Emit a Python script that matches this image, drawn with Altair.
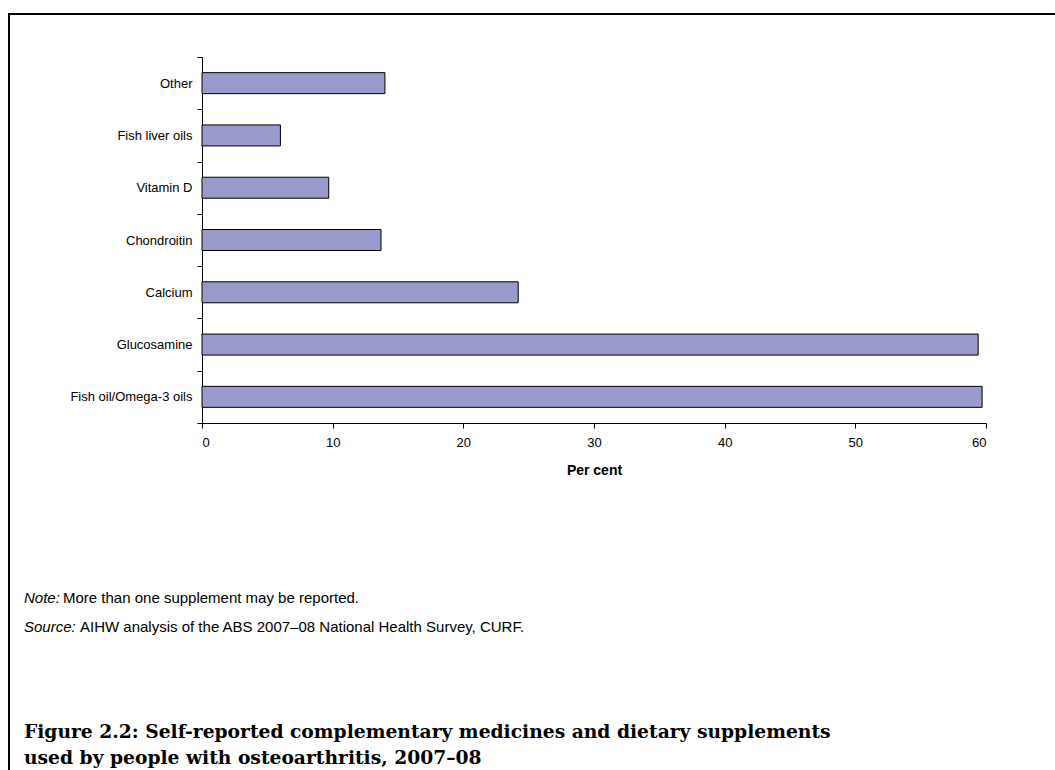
import altair as alt
import pandas as pd

categories = ["Other", "Fish liver oils", "Vitamin D", "Chondroitin", "Calcium",
              "Glucosamine", "Fish oil/Omega-3 oils"]
values = [14.0, 6.0, 9.7, 13.7, 24.2, 59.4, 59.7]
x_ticks = [0, 10, 20, 30, 40, 50, 60]

df = pd.DataFrame({"cat": categories, "val": values})

W, H = 784, 366
LEFT, TOP = 202, 57
FULL_W, FULL_H = 1055, 770

bars = alt.Chart(df).mark_bar(
    color="#9999CC", stroke="#000000", strokeWidth=1, size=21
).encode(
    x=alt.X("val:Q",
            scale=alt.Scale(domain=[0, 60], nice=False, zero=True),
            axis=alt.Axis(values=x_ticks, title="Per cent", grid=False,
                          tickSize=5, labelPadding=8, titlePadding=14,
                          labelFont="Liberation Sans", labelFontSize=13,
                          labelColor="#000000", tickColor="#000000",
                          domainColor="#000000",
                          titleFont="Liberation Sans", titleFontSize=14,
                          titleFontWeight="bold", titleColor="#000000")),
    y=alt.Y("cat:N", sort=categories,
            scale=alt.Scale(paddingInner=0, paddingOuter=0),
            axis=alt.Axis(title=None, tickBand="extent", tickSize=5,
                          labelPadding=5, labelFont="Liberation Sans",
                          labelFontSize=13, labelColor="#000000",
                          tickColor="#000000", domainColor="#000000")),
)

one = alt.Data(values=[{"a": 1}])

def txt(s, x, y, size, font="Liberation Sans", weight="normal", style="normal"):
    return alt.Chart(one).mark_text(
        text=s, align="left", baseline="alphabetic", font=font,
        fontSize=size, fontWeight=weight, fontStyle=style, color="#000000"
    ).encode(x=alt.value(x - LEFT), y=alt.value(y - TOP))

notes = [
    txt("Note:", 24, 603, 15, style="italic"),
    txt("More than one supplement may be reported.", 63, 603, 15),
    txt("Source:", 24, 632, 15, style="italic"),
    txt("AIHW analysis of the ABS 2007\u201308 National Health Survey, CURF.", 80, 632, 15),
    txt("Figure 2.2: Self-reported complementary medicines and dietary supplements",
        24, 738, 18.7, font="DejaVu Serif", weight="bold"),
    txt("used by people with osteoarthritis, 2007\u201308",
        24, 764, 18.7, font="DejaVu Serif", weight="bold"),
]

frame_left = alt.Chart(one).mark_rule(color="#000000", strokeWidth=2).encode(
    x=alt.value(9 - LEFT), y=alt.value(14 - TOP), y2=alt.value(FULL_H - TOP + 5))
frame_top = alt.Chart(one).mark_rule(color="#000000", strokeWidth=2).encode(
    x=alt.value(8 - LEFT), x2=alt.value(FULL_W - LEFT + 5), y=alt.value(14 - TOP))

chart = alt.layer(bars, frame_left, frame_top, *notes).properties(
    width=W, height=H,
    autosize=alt.AutoSizeParams(type="none"),
    padding={"left": LEFT, "top": TOP, "right": FULL_W - LEFT - W,
             "bottom": FULL_H - TOP - H},
    background="#ffffff",
).configure_view(stroke=None)

chart.save("out.html", embed_options={"renderer": "svg", "actions": False})
